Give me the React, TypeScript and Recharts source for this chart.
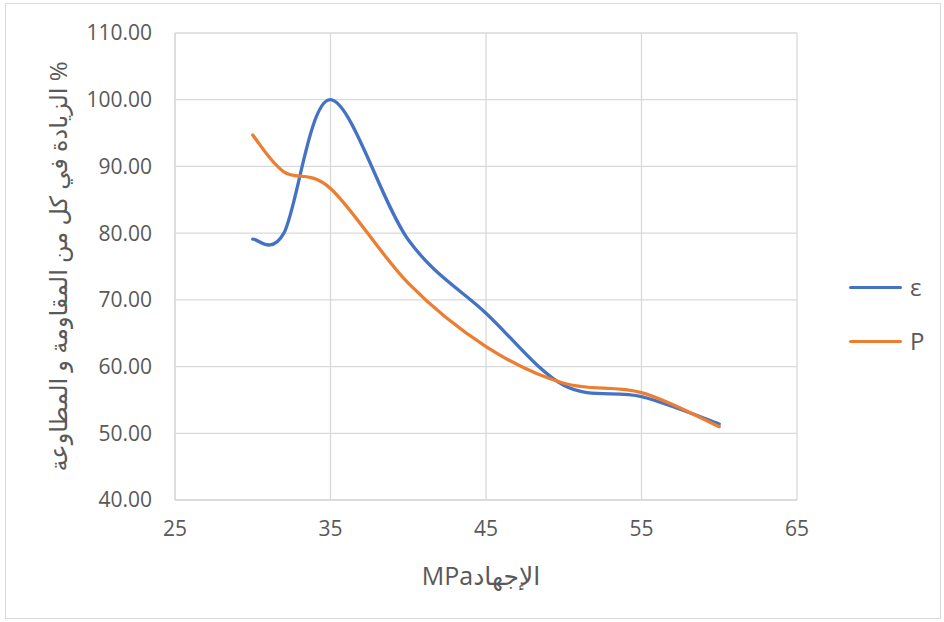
import { LineChart, Line, XAxis, YAxis, CartesianGrid } from 'recharts';

// stress (MPa) on x, percentage increase on y
const stress = [30, 32, 35, 40, 45, 50, 55, 60];
const strainGain = [79.1, 80, 100, 79, 68, 57.2, 55.5, 51.4];
const strengthGain = [94.7, 89.2, 86.7, 72.5, 63, 57.5, 56.1, 51.0];

const xTicks = [25, 35, 45, 55, 65];
const yTicks = [40, 50, 60, 70, 80, 90, 100, 110];

const series = [
  { key: 'eps', name: 'ε', color: '#4472C4' },
  { key: 'p', name: 'P', color: '#ED7D31' },
];

const data = stress.map((s, i) => ({ stress: s, eps: strainGain[i], p: strengthGain[i] }));

const FONT = '"Open Sans", "DejaVu Sans", sans-serif';
const TEXT = '#595959';

// Excel-like smoothed line (Catmull-Rom through the points)
function excelCurve(context: any) {
  let pts: number[][] = [];
  return {
    areaStart() {},
    areaEnd() {},
    lineStart() {
      pts = [];
    },
    point(x: number, y: number) {
      pts.push([+x, +y]);
    },
    lineEnd() {
      if (!pts.length) return;
      context.moveTo(pts[0][0], pts[0][1]);
      for (let i = 0; i < pts.length - 1; i++) {
        const p0 = pts[Math.max(0, i - 1)];
        const p1 = pts[i];
        const p2 = pts[i + 1];
        const p3 = pts[Math.min(pts.length - 1, i + 2)];
        context.bezierCurveTo(
          p1[0] + (p2[0] - p0[0]) / 6,
          p1[1] + (p2[1] - p0[1]) / 6,
          p2[0] - (p3[0] - p1[0]) / 6,
          p2[1] - (p3[1] - p1[1]) / 6,
          p2[0],
          p2[1],
        );
      }
    },
  };
}

const YTitle = (props: any) => {
  const vb = props.viewBox;
  const cx = 57;
  const cy = vb.y + vb.height / 2;
  return (
    <text
      x={cx}
      y={cy}
      transform={`rotate(-90 ${cx} ${cy})`}
      textAnchor="middle"
      dominantBaseline="central"
      fontSize={24}
      fill={TEXT}
      fontFamily={FONT}
    >
      الزيادة في كل من المقاومة و المطاوعة %
    </text>
  );
};

const XTitle = (props: any) => {
  const vb = props.viewBox;
  return (
    <text
      x={vb.x + vb.width / 2 - 5}
      y={575}
      textAnchor="middle"
      dominantBaseline="central"
      fontSize={25}
      fill={TEXT}
      fontFamily={FONT}
    >
      MPaالإجهاد
    </text>
  );
};

export default function App() {
  return (
    <div
      style={{
        position: 'absolute',
        left: 0,
        top: 0,
        width: 944,
        height: 622,
        background: '#fff',
        fontFamily: FONT,
      }}
    >
      <div
        style={{
          position: 'absolute',
          left: 5,
          top: 3,
          width: 934,
          height: 614,
          border: '1px solid #d9d9d9',
        }}
      />
      <LineChart
        width={944}
        height={622}
        data={data}
        margin={{ top: 33, right: 147, left: 0, bottom: 0 }}
        style={{ position: 'absolute', left: 0, top: 0 }}
      >
        <CartesianGrid stroke="#d9d9d9" strokeWidth={1.3} />
        <XAxis
          dataKey="stress"
          type="number"
          domain={[25, 65]}
          ticks={xTicks}
          height={122}
          tickLine={false}
          tickSize={6}
          tickMargin={15}
          axisLine={{ stroke: '#d9d9d9', strokeWidth: 1.3 }}
          tick={{ fontSize: 21, fill: TEXT, fontFamily: FONT }}
          label={<XTitle />}
        />
        <YAxis
          type="number"
          domain={[40, 110]}
          ticks={yTicks}
          width={175}
          tickLine={false}
          tickSize={6}
          tickMargin={17}
          axisLine={{ stroke: '#d9d9d9', strokeWidth: 1.3 }}
          tick={{ fontSize: 21, fill: TEXT, fontFamily: FONT }}
          tickFormatter={(v: number) => v.toFixed(2)}
          label={<YTitle />}
        />
        {series.map((s) => (
          <Line
            key={s.key}
            dataKey={s.key}
            name={s.name}
            type={excelCurve as any}
            stroke={s.color}
            strokeWidth={3.3}
            strokeLinecap="round"
            dot={false}
            activeDot={false}
            isAnimationActive={false}
          />
        ))}
      </LineChart>
      {series.map((s, i) => (
        <div
          key={s.key}
          style={{
            position: 'absolute',
            left: 849,
            top: 287 + i * 54 - 16,
            height: 32,
            display: 'flex',
            alignItems: 'center',
          }}
        >
          <div style={{ width: 53, height: 3, background: s.color, borderRadius: 2 }} />
          <span style={{ marginLeft: 8, fontSize: 24, color: TEXT, lineHeight: '32px' }}>{s.name}</span>
        </div>
      ))}
    </div>
  );
}
